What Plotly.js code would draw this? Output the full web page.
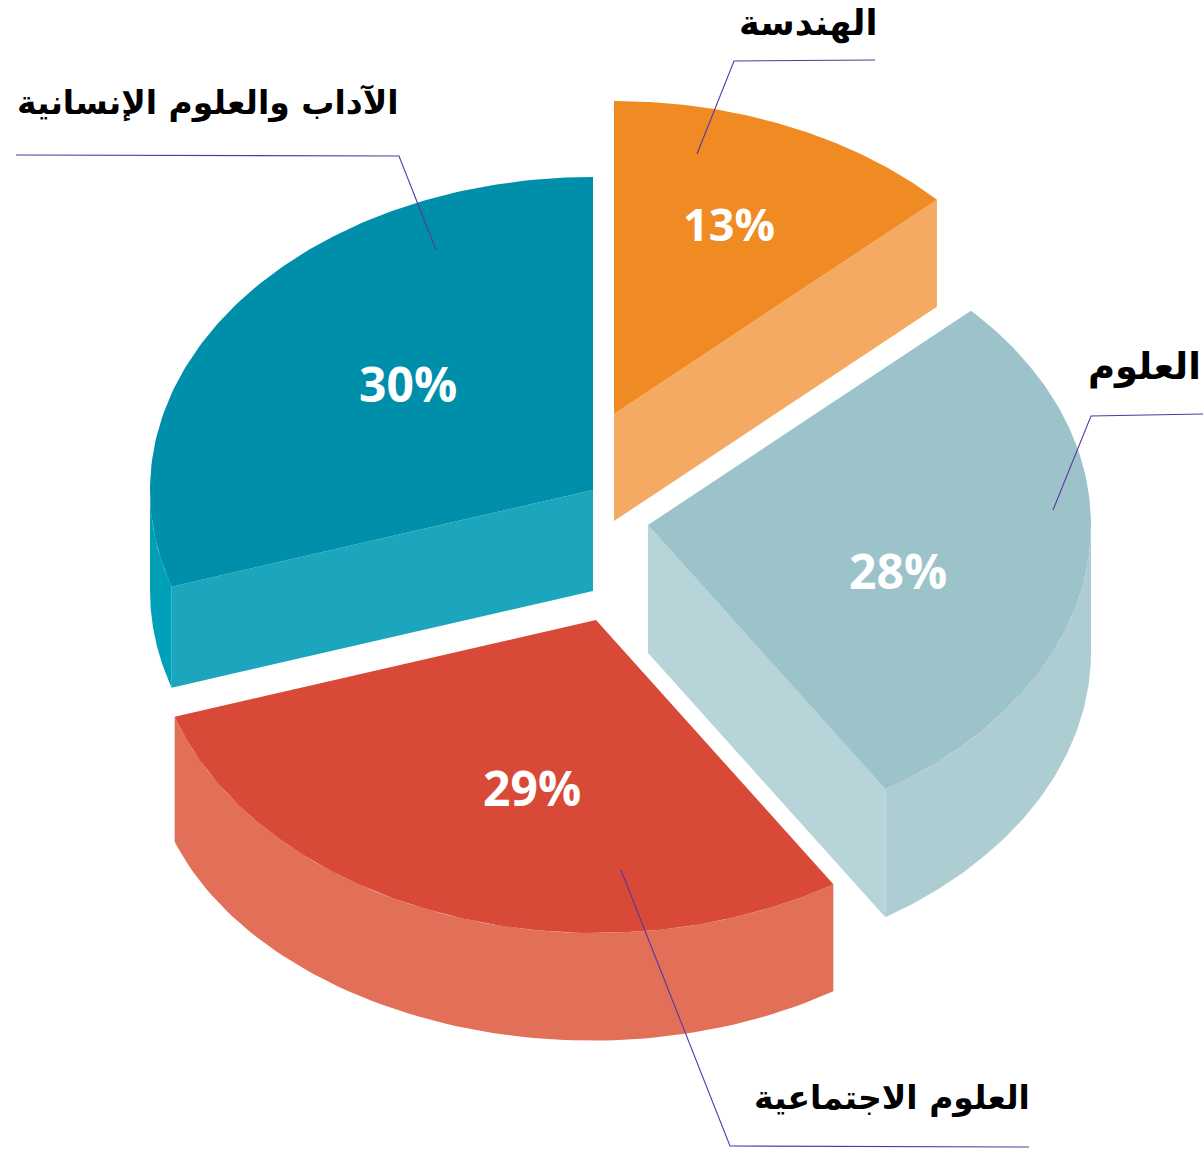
<!DOCTYPE html>
<html lang="ar">
<head>
<meta charset="utf-8">
<script src="https://cdn.plot.ly/plotly-3.0.1.min.js"></script>
<style>html,body{margin:0;padding:0;background:#fff}#chart{width:1203px;height:1149px}</style>
</head>
<body>
<div id="chart"></div>
<script>
// Data
const categories = ['الهندسة', 'العلوم', 'العلوم الاجتماعية', 'الآداب والعلوم الإنسانية'];
const shares = [13, 28, 29, 30];

// Styles and geometry of the exploded 3D pie
const topColors = ['#F08A22', '#9DC3CA', '#D94937', '#008FAB'];
const cutColors = ['#F4AA62', '#B7D4D8', '#E26F57', '#1CA6BD'];
const rimColors = ['#F4AA62', '#ADCDD2', '#E26F57', '#00A0B8'];
const apexX = [614, 648, 596, 593];
const apexY = [414, 525, 620, 490];
const depthStart = [107, 127, 107, 101];
const depthEnd = [107, 128, 125, 101];
const RX = 443, RY = 313;
const labelPos = [[729, 223], [898, 570], [532, 787], [408, 383]];
const labelSize = [45, 48, 48, 48];
const nameX = [875, 1203, 1028, 397];
const nameY = [23, 367, 1098, 103];
const nameSize = [35, 37, 33, 33];
const nameShift = [4, 0, 4, 4];
const leaderX = [[875, 734, 697], [1203, 1091, 1053], [1029, 730, 621], [16, 399, 436]];
const leaderY = [[60, 61, 154], [414, 416, 510], [1147, 1146, 870], [155, 156, 250]];
const leaderColor = '#5A36A2';

const pt = (i, deg) => {
  const a = deg * Math.PI / 180;
  return [apexX[i] + RX * Math.sin(a), apexY[i] - RY * Math.cos(a)];
};
const range = (a, b, n) => Array.from({length: n + 1}, (_, k) => a + (b - a) * k / n);
const poly = (pts, color) => ({
  type: 'scatter', mode: 'lines', x: pts.map(p => p[0]), y: pts.map(p => p[1]),
  fill: 'toself', fillcolor: color, line: {width: 0, color: color},
  hoverinfo: 'skip', showlegend: false
});

const traces = [];
const tops = [];
const total = shares.reduce((a, b) => a + b, 0);
let cum = 0;
shares.forEach((v, i) => {
  const a0 = cum / total * 360, a1 = (cum + v) / total * 360;
  cum += v;
  // visible rim: the lower half of the ellipse, 90deg to 270deg
  const r0 = Math.max(a0, 90), r1 = Math.min(a1, 270);
  if (r1 > r0) {
    const top = range(r0, r1, 80).map(d => pt(i, d));
    const bottom = range(r0, r1, 80).map((d, k) => {
      const t = k / 80, p = pt(i, d);
      return [p[0], p[1] + depthStart[i] + (depthEnd[i] - depthStart[i]) * t * t * t];
    });
    traces.push(poly(top.concat(bottom.reverse()), rimColors[i]));
  }
  // visible cut face
  const cutDeg = (i === 0 || i === 1) ? a1 : (i === 3 ? a0 : null);
  if (cutDeg !== null) {
    const d = pt(i, cutDeg);
    const dp = cutDeg === a0 ? depthStart[i] : depthEnd[i];
    traces.push(poly([[apexX[i], apexY[i]], d, [d[0], d[1] + dp], [apexX[i], apexY[i] + dp]], cutColors[i]));
  }
  const arc = range(a0, a1, 120).map(d => pt(i, d));
  tops.push(poly([[apexX[i], apexY[i]]].concat(arc), topColors[i]));
});
traces.push(...tops);
leaderX.forEach((xs, i) => traces.push({
  type: 'scatter', mode: 'lines', x: xs, y: leaderY[i],
  line: {color: leaderColor, width: 1.1}, hoverinfo: 'skip', showlegend: false
}));

const annotations = [];
shares.forEach((v, i) => {
  annotations.push({
    x: labelPos[i][0], y: labelPos[i][1], xref: 'x', yref: 'y', text: '<b>' + v + '%</b>',
    showarrow: false, xanchor: 'center', yanchor: 'middle',
    font: {family: '"Open Sans", sans-serif', size: labelSize[i], color: '#FFFFFF'}
  });
  annotations.push({
    x: nameX[i], y: nameY[i], xref: 'x', yref: 'y', xshift: nameShift[i], text: '<b>' + categories[i] + '</b>',
    showarrow: false, xanchor: 'right', yanchor: 'middle',
    font: {family: '"DejaVu Sans", sans-serif', size: nameSize[i], color: '#000000'}
  });
});

const hidden = {visible: false, fixedrange: true, autorange: false};
Plotly.newPlot('chart', traces, {
  width: 1203, height: 1149,
  margin: {l: 0, r: 0, t: 0, b: 0},
  paper_bgcolor: '#FFFFFF', plot_bgcolor: '#FFFFFF',
  xaxis: Object.assign({range: [0, 1203]}, hidden),
  yaxis: Object.assign({range: [1149, 0]}, hidden),
  showlegend: false, annotations: annotations
}, {displayModeBar: false, staticPlot: true});
</script>
</body>
</html>
